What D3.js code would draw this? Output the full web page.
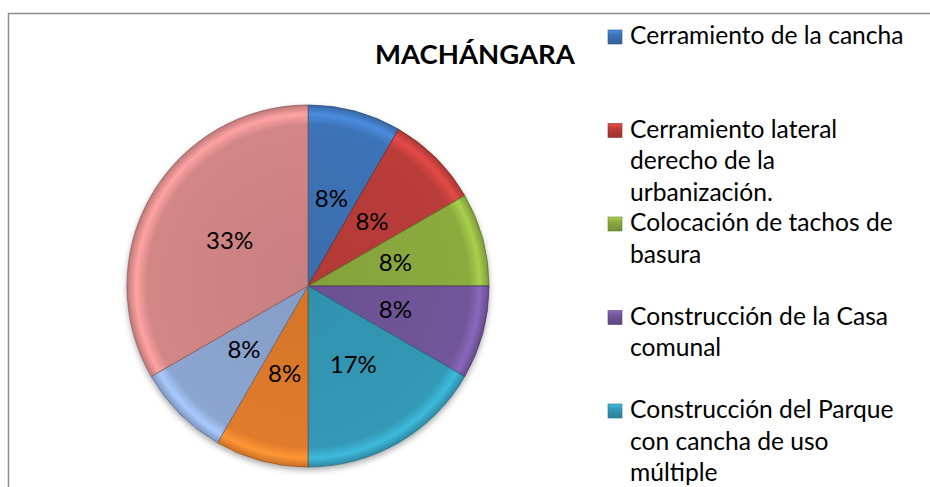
<!DOCTYPE html>
<html>
<head>
<meta charset="utf-8">
<script src="https://cdn.jsdelivr.net/npm/d3@7"></script>
<style>
  html, body { margin: 0; padding: 0; background: #fff; }
  svg { display: block; font-family: Lato, "Open Sans", sans-serif; }
</style>
</head>
<body>
<svg id="chart" width="930" height="487"></svg>
<script>
const title = "MACHÁNGARA";

// slices clockwise from 12 o'clock
const values = [1, 1, 1, 1, 2, 1, 1, 4];
const sliceColors = ["#3d73b7", "#bb3d3a", "#8bab3f", "#71559a", "#3399b6", "#e07b2b", "#8ca6d1", "#d38686"];

// only the first five legend entries fit in the picture
const legendLabels = [
    "Cerramiento de la cancha",
    "Cerramiento lateral\nderecho de la\nurbanización.",
    "Colocación de tachos de\nbasura",
    "Construcción de la Casa\ncomunal",
    "Construcción del Parque\ncon cancha de uso\nmúltiple"
];

const svg = d3.select("#chart");
const defs = svg.append("defs");

const cx = 308, cy = 286, radius = 181;

// outer frame (right and bottom sides fall outside the picture)
svg.append("rect")
    .attr("x", 8.5).attr("y", 13.5)
    .attr("width", 1000).attr("height", 600)
    .attr("fill", "none")
    .attr("stroke", "#8c8c8c")
    .attr("stroke-width", 1.5);

svg.append("text")
    .attr("x", 475).attr("y", 64)
    .attr("text-anchor", "middle")
    .attr("font-weight", "bold")
    .attr("font-size", 27.5)
    .attr("fill", "#000")
    .text(title);

const shadow = defs.append("filter").attr("id", "shadow")
    .attr("x", "-20%").attr("y", "-20%").attr("width", "140%").attr("height", "140%");
shadow.append("feDropShadow")
    .attr("dx", 0).attr("dy", 3).attr("stdDeviation", 3)
    .attr("flood-color", "#000").attr("flood-opacity", 0.35);

// rim bevel per colour
sliceColors.forEach((c, i) => {
    const base = d3.color(c);
    const g = defs.append("radialGradient")
        .attr("id", "bevel" + i)
        .attr("gradientUnits", "userSpaceOnUse")
        .attr("cx", 0).attr("cy", 0).attr("r", radius);
    g.append("stop").attr("offset", "0%").attr("stop-color", base.darker(0.15));
    g.append("stop").attr("offset", "89%").attr("stop-color", base);
    g.append("stop").attr("offset", "95%").attr("stop-color", base.brighter(0.55));
    g.append("stop").attr("offset", "100%").attr("stop-color", base.darker(0.3));
});

const pie = d3.pie().sort(null).value(d => d);
const arcs = pie(values);
const arc = d3.arc().innerRadius(0).outerRadius(radius);
const labelArc = d3.arc().innerRadius(radius * 0.5).outerRadius(radius * 0.5);
const total = d3.sum(values);

const pieG = svg.append("g").attr("transform", `translate(${cx},${cy})`);

pieG.append("circle").attr("r", radius).attr("fill", "#fff").attr("filter", "url(#shadow)");

pieG.selectAll("path.slice")
    .data(arcs)
    .enter()
    .append("path")
    .attr("class", "slice")
    .attr("d", arc)
    .attr("fill", (d, i) => `url(#bevel${i})`)
    .attr("stroke", (d, i) => d3.color(sliceColors[i]).darker(1.2))
    .attr("stroke-width", 0.8)
    .attr("stroke-linejoin", "round");

pieG.selectAll("text.pct")
    .data(arcs)
    .enter()
    .append("text")
    .attr("class", "pct")
    .attr("transform", d => `translate(${labelArc.centroid(d)})`)
    .attr("text-anchor", "middle")
    .attr("dy", "0.35em")
    .attr("font-size", 24)
    .attr("fill", "#000")
    .text(d => d3.format(".0%")(d.value / total));

// legend
const legendX = 608, firstBaseline = 44, entryStep = 93.5, lineStep = 31.5;
const legend = svg.append("g");

legendLabels.forEach((label, i) => {
    const y0 = firstBaseline + i * entryStep;
    const base = d3.color(sliceColors[i]);
    const lg = defs.append("linearGradient")
        .attr("id", "key" + i).attr("x1", 0).attr("y1", 0).attr("x2", 0).attr("y2", 1);
    lg.append("stop").attr("offset", "0%").attr("stop-color", base.brighter(0.6));
    lg.append("stop").attr("offset", "35%").attr("stop-color", base);
    lg.append("stop").attr("offset", "100%").attr("stop-color", base.darker(0.5));

    legend.append("rect")
        .attr("x", legendX).attr("y", y0 - 14)
        .attr("width", 14).attr("height", 14)
        .attr("fill", `url(#key${i})`)
        .attr("stroke", base.darker(0.8))
        .attr("stroke-width", 0.6);

    const t = legend.append("text")
        .attr("x", legendX + 22).attr("y", y0)
        .attr("font-size", 24.6)
        .attr("fill", "#000");
    label.split("\n").forEach((line, j) => {
        t.append("tspan")
            .attr("x", legendX + 22)
            .attr("y", y0 + j * lineStep)
            .text(line);
    });
});
</script>
</body>
</html>
